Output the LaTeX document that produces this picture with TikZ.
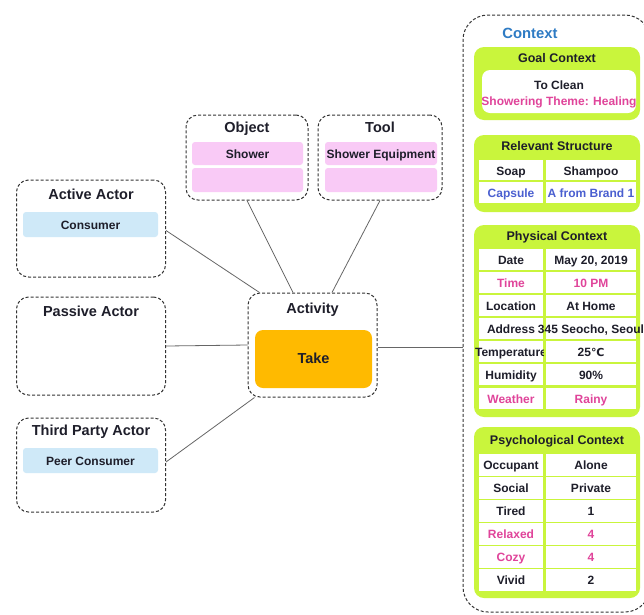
\documentclass[tikz,border=0pt]{standalone}
\usepackage{fontspec}
\setmainfont{Liberation Sans}
\newfontfamily\symfont{DejaVu Sans}
\definecolor{lime}{HTML}{C9F53C}
\definecolor{pinkbar}{HTML}{F9CAF6}
\definecolor{bluebar}{HTML}{CFE9F8}
\definecolor{gold}{HTML}{FFBA00}
\definecolor{pinktxt}{HTML}{E0449A}
\definecolor{bluetxt}{HTML}{4A5FD0}
\definecolor{ctxblue}{HTML}{2E7BC4}
\definecolor{ink}{HTML}{1E1E2A}
\definecolor{edge}{HTML}{666666}
\newcommand{\crow}[5]{%
  \node[lcell] (#1l) at (511,#2) {};
  \node[celltext, text=#5] (#1lt) at (#1l) {#3};
  \node[rcell] (#1r) at (591,#2) {};
  \node[celltext, text=#5] (#1rt) at (#1r) {#4};
}
\begin{document}
\begin{tikzpicture}[x=1pt,y=-1pt,
  txt/.style={inner sep=0pt, text height=0.9em, text depth=0pt},
  dbox/.style={draw=black!80, densely dashed, line width=1pt, rounded corners=12pt, fill=white, inner sep=0pt},
  ttl/.style={txt, font=\fontsize{14.5}{16}\selectfont\bfseries, text=ink},
  bartext/.style={txt, font=\fontsize{12}{14}\selectfont\bfseries, text=ink},
  bbar/.style={fill=bluebar, rounded corners=3pt, inner sep=0pt, minimum width=135pt, minimum height=25pt},
  pbar/.style={fill=pinkbar, rounded corners=3pt, inner sep=0pt, minimum width=111pt},
  panel/.style={fill=lime, rounded corners=10pt, inner sep=0pt, minimum width=166pt},
  ptitle/.style={txt, font=\fontsize{12.5}{14}\selectfont\bfseries, text=ink},
  lcell/.style={fill=white, draw=lime, line width=1.2pt, inner sep=0pt, minimum width=66pt, minimum height=23pt},
  rcell/.style={fill=white, draw=lime, line width=1.2pt, inner sep=0pt, minimum width=92pt, minimum height=23pt},
  celltext/.style={txt, font=\fontsize{12}{14}\selectfont\bfseries},
  conn/.style={draw=edge, line width=0.8pt}]
\useasboundingbox (0,0) rectangle (644,614);
\fill[white] (0,0) rectangle (644,614);

% actors
\node[dbox, minimum width=149pt, minimum height=97pt] (aa) at (91,228.5) {};
\node[ttl] (aat) at (91,195) {Active Actor};
\node[bbar] (aab) at (90.5,224.5) {};
\node[bartext] (aabt) at (aab) {Consumer};

\node[dbox, minimum width=149pt, minimum height=98pt] (pa) at (91,346) {};
\node[ttl] (pat) at (91,312) {Passive Actor};

\node[dbox, minimum width=149pt, minimum height=94pt] (tp) at (91,465) {};
\node[ttl] (tpt) at (91,431) {Third Party Actor};
\node[bbar] (tpb) at (90.5,460.5) {};
\node[bartext] (tpbt) at (tpb) {Peer Consumer};

% object and tool
\node[dbox, minimum width=122pt, minimum height=85pt] (obj) at (247,157.5) {};
\node[ttl] (objt) at (247,128) {Object};
\node[pbar, minimum height=23pt] (objb1) at (247.5,153.5) {};
\node[bartext] (objb1t) at (objb1) {Shower};
\node[pbar, minimum height=24pt] (objb2) at (247.5,180) {};

\node[dbox, minimum width=124pt, minimum height=85pt] (tool) at (380,157.5) {};
\node[ttl] (toolt) at (380,128) {Tool};
\node[pbar, minimum width=112pt, minimum height=23pt] (toolb1) at (381,153.5) {};
\node[bartext] (toolb1t) at (toolb1) {Shower Equipment};
\node[pbar, minimum width=112pt, minimum height=24pt] (toolb2) at (381,180) {};

% activity
\node[dbox, minimum width=129pt, minimum height=104pt] (act) at (312.5,345) {};
\node[ttl] (actt) at (312.5,309) {Activity};
\node[fill=gold, rounded corners=8pt, inner sep=0pt, minimum width=117pt, minimum height=58pt] (take) at (313.5,359) {};
\node[ttl] (taket) at (take) {Take};

% context
\node[dbox, rounded corners=25pt, minimum width=187pt, minimum height=597pt] (ctx) at (556.5,313.5) {};
\node[txt, font=\fontsize{14.8}{16}\selectfont\bfseries, text=ctxblue] (ctxt) at (530,34) {Context};

% goal context
\node[panel, minimum height=73pt] (goal) at (557,83.5) {};
\node[ptitle] (goalt) at (557,58) {Goal Context};
\node[fill=white, rounded corners=8pt, inner sep=0pt, minimum width=154pt, minimum height=43pt] (goalw) at (559,91.5) {};
\node[celltext, text=ink] (g1) at (559,85) {To Clean};
\node[celltext, text=pinktxt] (g2) at (559,101) {Showering Theme: Healing};

% relevant structure
\node[panel, minimum height=77pt] (rel) at (557,173.5) {};
\node[ptitle] (relt) at (557,146) {Relevant Structure};
\crow{r1}{170.5}{Soap}{Shampoo}{ink}
\crow{r2}{192.5}{Capsule}{A from Brand 1}{bluetxt}

% physical context
\node[panel, minimum height=192pt] (phy) at (557,321) {};
\node[ptitle] (phyt) at (557,236) {Physical Context};
\crow{p1}{259.5}{Date}{May 20, 2019}{ink}
\crow{p2}{282.5}{Time}{10 PM}{pinktxt}
\crow{p3}{305.5}{Location}{At Home}{ink}
\crow{p4}{328.5}{Address}{345 Seocho, Seoul}{ink}
\crow{p5}{351.5}{Temperature}{25{\symfont\fontsize{11}{13}\selectfont ℃}}{ink}
\crow{p6}{374.5}{Humidity}{90\%}{ink}
\crow{p7}{398.5}{Weather}{Rainy}{pinktxt}

% psychological context
\node[panel, minimum height=171pt] (psy) at (557,512.5) {};
\node[ptitle] (psyt) at (557,440) {Psychological Context};
\crow{s1}{465}{Occupant}{Alone}{ink}
\crow{s2}{488}{Social}{Private}{ink}
\crow{s3}{511}{Tired}{1}{ink}
\crow{s4}{534}{Relaxed}{4}{pinktxt}
\crow{s5}{557}{Cozy}{4}{pinktxt}
\crow{s6}{580}{Vivid}{2}{ink}

% connectors
\draw[conn] ([yshift=-2pt]aa.east) -- ([xshift=12pt]act.north west);
\draw[conn] (obj.south) -- ([xshift=-19.5pt]act.north);
\draw[conn] (tool.south) -- ([xshift=19.5pt]act.north);
\draw[conn] (pa.east) -- (act.west);
\draw[conn] ([yshift=3pt]tp.east) -- ([xshift=7pt]act.south west);
\draw[conn] ([yshift=-2pt]act.east) -- ([yshift=-2pt]act.east -| ctx.west);
\end{tikzpicture}
\end{document}
